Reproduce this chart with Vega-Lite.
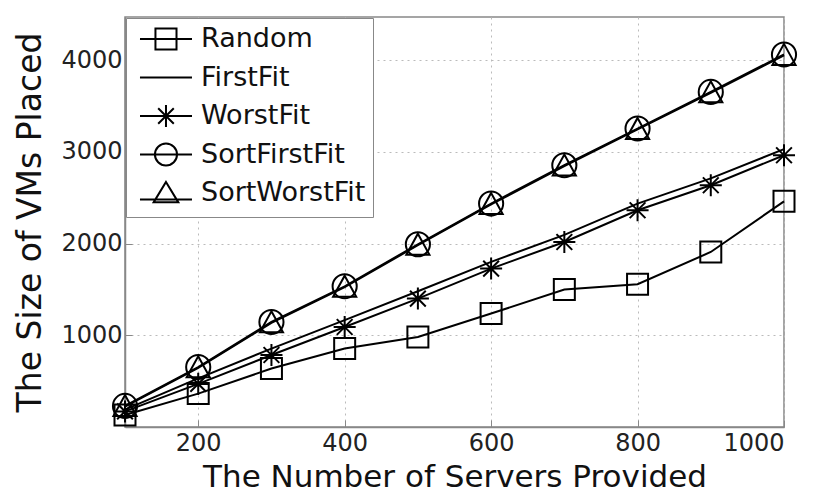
{
  "$schema": "https://vega.github.io/schema/vega-lite/v6.json",
  "autosize": "none",
  "padding": {"left": 125, "top": 17, "right": 36, "bottom": 71},
  "width": 659,
  "height": 410,
  "background": "white",
  "config": {
    "font": "DejaVu Sans",
    "view": {"stroke": "#888", "strokeWidth": 1.5},
    "axis": {
      "labelFont": "DejaVu Sans",
      "titleFont": "DejaVu Sans",
      "labelFontSize": 24,
      "labelColor": "#222",
      "titleColor": "#111",
      "titleFontWeight": "normal",
      "domainColor": "#888",
      "domainWidth": 1.5,
      "tickColor": "#888",
      "gridColor": "#bbb",
      "gridDash": [2, 4],
      "gridWidth": 1,
      "format": "d"
    },
    "legend": {
      "orient": "top-left",
      "offset": 1,
      "padding": 7,
      "strokeColor": "#888",
      "fillColor": "white",
      "labelFont": "DejaVu Sans",
      "labelFontSize": 27,
      "labelColor": "#111",
      "labelLimit": 400,
      "symbolStrokeColor": "black",
      "symbolStrokeWidth": 2,
      "symbolFillColor": "transparent",
      "symbolSize": 676,
      "symbolOpacity": 1,
      "rowPadding": 4.5,
      "labelOffset": 40
    }
  },
  "data": {
    "values": [
      {"servers": 100, "series": "Random", "vms": 130},
      {"servers": 200, "series": "Random", "vms": 364},
      {"servers": 300, "series": "Random", "vms": 637},
      {"servers": 400, "series": "Random", "vms": 855},
      {"servers": 500, "series": "Random", "vms": 981},
      {"servers": 600, "series": "Random", "vms": 1237},
      {"servers": 700, "series": "Random", "vms": 1498},
      {"servers": 800, "series": "Random", "vms": 1556},
      {"servers": 900, "series": "Random", "vms": 1908},
      {"servers": 1000, "series": "Random", "vms": 2460},
      {"servers": 100, "series": "FirstFit", "vms": 190},
      {"servers": 200, "series": "FirstFit", "vms": 530},
      {"servers": 300, "series": "FirstFit", "vms": 855},
      {"servers": 400, "series": "FirstFit", "vms": 1165},
      {"servers": 500, "series": "FirstFit", "vms": 1480},
      {"servers": 600, "series": "FirstFit", "vms": 1800},
      {"servers": 700, "series": "FirstFit", "vms": 2095},
      {"servers": 800, "series": "FirstFit", "vms": 2436},
      {"servers": 900, "series": "FirstFit", "vms": 2710},
      {"servers": 1000, "series": "FirstFit", "vms": 3030},
      {"servers": 100, "series": "WorstFit", "vms": 170},
      {"servers": 200, "series": "WorstFit", "vms": 470},
      {"servers": 300, "series": "WorstFit", "vms": 785},
      {"servers": 400, "series": "WorstFit", "vms": 1090},
      {"servers": 500, "series": "WorstFit", "vms": 1400},
      {"servers": 600, "series": "WorstFit", "vms": 1727},
      {"servers": 700, "series": "WorstFit", "vms": 2017},
      {"servers": 800, "series": "WorstFit", "vms": 2363},
      {"servers": 900, "series": "WorstFit", "vms": 2636},
      {"servers": 1000, "series": "WorstFit", "vms": 2963},
      {"servers": 100, "series": "SortFirstFit", "vms": 230},
      {"servers": 200, "series": "SortFirstFit", "vms": 654},
      {"servers": 300, "series": "SortFirstFit", "vms": 1145},
      {"servers": 400, "series": "SortFirstFit", "vms": 1534},
      {"servers": 500, "series": "SortFirstFit", "vms": 1992},
      {"servers": 600, "series": "SortFirstFit", "vms": 2436},
      {"servers": 700, "series": "SortFirstFit", "vms": 2854},
      {"servers": 800, "series": "SortFirstFit", "vms": 3254},
      {"servers": 900, "series": "SortFirstFit", "vms": 3653},
      {"servers": 1000, "series": "SortFirstFit", "vms": 4061},
      {"servers": 100, "series": "SortWorstFit", "vms": 222},
      {"servers": 200, "series": "SortWorstFit", "vms": 645},
      {"servers": 300, "series": "SortWorstFit", "vms": 1135},
      {"servers": 400, "series": "SortWorstFit", "vms": 1524},
      {"servers": 500, "series": "SortWorstFit", "vms": 1982},
      {"servers": 600, "series": "SortWorstFit", "vms": 2426},
      {"servers": 700, "series": "SortWorstFit", "vms": 2844},
      {"servers": 800, "series": "SortWorstFit", "vms": 3244},
      {"servers": 900, "series": "SortWorstFit", "vms": 3643},
      {"servers": 1000, "series": "SortWorstFit", "vms": 4051}
    ]
  },
  "encoding": {
    "x": {
      "field": "servers",
      "type": "quantitative",
      "scale": {"domain": [100, 1000], "nice": false, "zero": false},
      "axis": {
        "title": "The Number of Servers Provided",
        "titleFontSize": 31,
        "values": [200, 400, 600, 800, 1000],
        "tickSize": -7,
        "labelPadding": 11,
        "titlePadding": 7
      }
    },
    "y": {
      "field": "vms",
      "type": "quantitative",
      "scale": {"domain": [0, 4470], "nice": false},
      "axis": {
        "title": "The Size of VMs Placed",
        "titleFontSize": 33,
        "values": [1000, 2000, 3000, 4000],
        "tickSize": -7,
        "labelPadding": 10,
        "titlePadding": 13
      }
    }
  },
  "layer": [
    {
      "mark": {"type": "line", "color": "black", "strokeWidth": 2},
      "encoding": {"detail": {"field": "series"}}
    },
    {
      "transform": [{"filter": "datum.series !== 'FirstFit'"}],
      "mark": {"type": "point", "filled": false, "stroke": "black", "strokeWidth": 2, "size": 441, "opacity": 1},
      "encoding": {
        "shape": {
          "field": "series",
          "type": "nominal",
          "scale": {
            "domain": ["Random", "WorstFit", "SortFirstFit", "SortWorstFit"],
            "range": [
              "M-1,-1L1,-1L1,1L-1,1Z",
              "M-1.05,0L1.05,0M0,-1.05L0,1.05M-0.75,-0.75L0.75,0.75M-0.75,0.75L0.75,-0.75",
              "M1.15,0A1.15,1.15,0,1,1,-1.15,0A1.15,1.15,0,1,1,1.15,0Z",
              "M0,-1.1L1.1,0.9L-1.1,0.9Z"
            ]
          },
          "legend": null
        }
      }
    },
    {
      "mark": {"type": "point", "filled": false, "stroke": "black", "opacity": 0},
      "encoding": {
        "shape": {
          "field": "series",
          "type": "nominal",
          "scale": {
            "domain": ["Random", "FirstFit", "WorstFit", "SortFirstFit", "SortWorstFit"],
            "range": [
              "M1.46,-1L1.46,-1M1.46,1L1.46,1M-0.54,0L3.46,0M0.65,-0.81L2.27,-0.81L2.27,0.81L0.65,0.81Z",
              "M1.46,-1L1.46,-1M1.46,1L1.46,1M-0.54,0L3.46,0",
              "M1.46,-1L1.46,-1M1.46,1L1.46,1M-0.54,0L3.46,0M1.46,-0.85L1.46,0.85M0.86,-0.6L2.06,0.6M0.86,0.6L2.06,-0.6",
              "M1.46,-1L1.46,-1M1.46,1L1.46,1M-0.54,0L3.46,0M2.31,0C2.31,0.47,1.93,0.85,1.46,0.85C0.99,0.85,0.61,0.47,0.61,0C0.61,-0.47,0.99,-0.85,1.46,-0.85C1.93,-0.85,2.31,-0.47,2.31,0Z",
              "M1.46,-1L1.46,-1M1.46,1L1.46,1M-0.54,0.5L3.46,0.5M1.46,-0.85L2.41,0.72L0.51,0.72Z"
            ]
          },
          "legend": {"title": null, "symbolOpacity": 1}
        }
      }
    }
  ],
  "resolve": {"scale": {"shape": "independent"}, "legend": {"shape": "independent"}}
}
